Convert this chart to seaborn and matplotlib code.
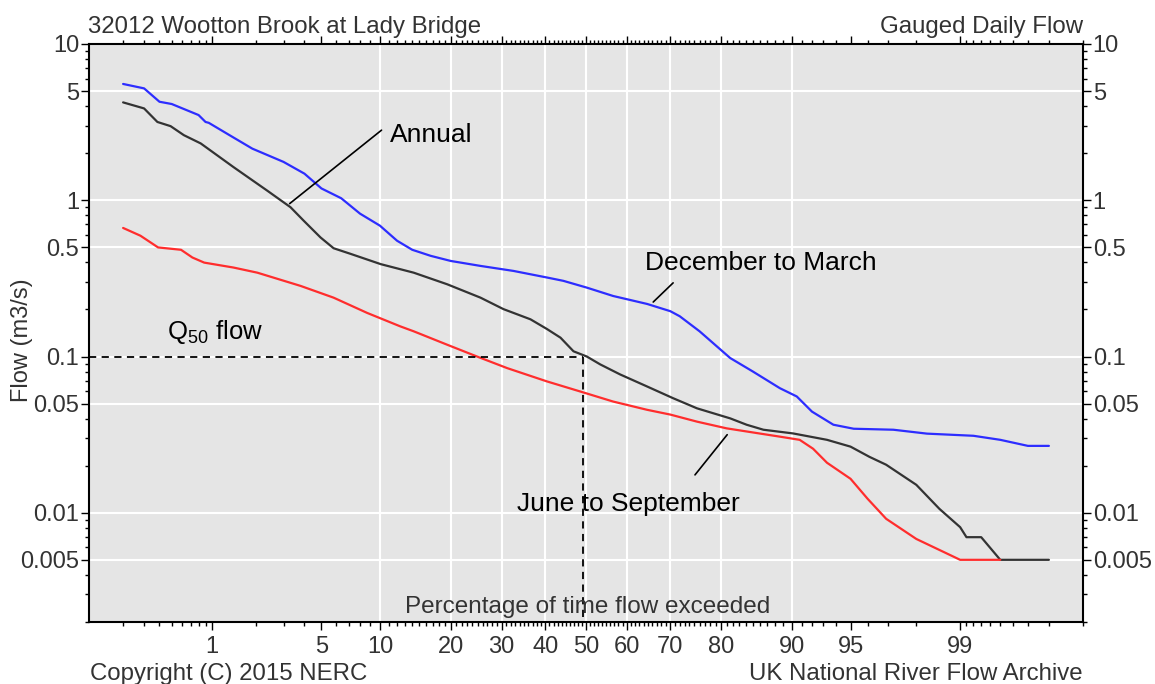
import math
import numpy as np
import pandas as pd
import matplotlib
matplotlib.use("Agg")
import matplotlib.pyplot as plt
from matplotlib.ticker import FixedLocator, FixedFormatter, NullFormatter
import seaborn as sns

# ---------------- data ----------------
dm_pct = [0.2, 0.3, 0.4, 0.5, 0.8, 0.9, 0.95, 1.4, 1.9, 3, 4, 5, 6.4, 8, 10, 12, 14, 16.7,
          20, 25.6, 32.6, 40.5, 44.4, 50.2, 56.7, 64.8, 70, 72, 76, 81.5, 85, 88.6, 90.5,
          92, 93.8, 95.2, 97.2, 98.3, 99.2, 99.5, 99.7, 99.8]
dm_flow = [5.55, 5.2, 4.27, 4.13, 3.51, 3.17, 3.13, 2.54, 2.14, 1.76, 1.48, 1.19, 1.03, 0.821,
           0.688, 0.551, 0.482, 0.441, 0.409, 0.38, 0.353, 0.32, 0.305, 0.276, 0.244, 0.217,
           0.195, 0.181, 0.145, 0.0978, 0.0803, 0.0627, 0.0555, 0.0444, 0.0366, 0.0345, 0.034,
           0.0321, 0.0311, 0.0293, 0.0268, 0.0268]

an_pct = [0.2, 0.3, 0.385, 0.49, 0.62, 0.83, 1.42, 2.38, 3.31, 3.96, 4.94, 5.83, 7.16, 10.1,
          14.2, 19.4, 25.6, 30.4, 36.5, 40.4, 43.7, 46.9, 50.2, 53.5, 58.4, 64.8, 70.6, 75.5,
          81.5, 84.1, 86.5, 90.1, 93.3, 95, 96.1, 96.9, 98, 98.6, 99, 99.1, 99.3, 99.5, 99.8]
an_flow = [4.23, 3.87, 3.17, 2.98, 2.61, 2.31, 1.63, 1.15, 0.902, 0.74, 0.578, 0.493, 0.454,
           0.39, 0.344, 0.29, 0.238, 0.201, 0.173, 0.15, 0.132, 0.108, 0.1, 0.0891, 0.0768,
           0.0643, 0.0541, 0.0466, 0.0402, 0.0366, 0.034, 0.0322, 0.0293, 0.0265, 0.0228,
           0.0203, 0.0151, 0.0106, 0.00809, 0.00698, 0.00698, 0.005, 0.005]

js_pct = [0.2, 0.28, 0.39, 0.59, 0.72, 0.88, 1.42, 2.05, 3.8, 5.83, 8.69, 12.4, 14.2, 19.4,
          24.9, 31.2, 40.4, 48.6, 56.7, 64.8, 70, 75.5, 80.9, 86.1, 88.6, 90.8, 92.1, 93.3,
          95, 96, 96.9, 98, 99, 99.5]
js_flow = [0.665, 0.593, 0.499, 0.482, 0.43, 0.399, 0.371, 0.344, 0.283, 0.238, 0.19, 0.156,
           0.145, 0.119, 0.1, 0.0843, 0.0693, 0.0597, 0.0515, 0.0456, 0.0425, 0.0383, 0.0347,
           0.0321, 0.0307, 0.0293, 0.0257, 0.0209, 0.0165, 0.0123, 0.00915, 0.0068, 0.005, 0.005]

q50_pct = 49.2
q50_flow = 0.1

x_tick_vals = [1, 5, 10, 20, 30, 40, 50, 60, 70, 80, 90, 95, 99]
x_tick_labels = ["1", "5", "10", "20", "30", "40", "50", "60", "70", "80", "90", "95", "99"]
x_grid_vals = [10, 20, 30, 40, 50, 60, 70, 80, 90]
y_tick_vals = [10, 5, 1, 0.5, 0.1, 0.05, 0.01, 0.005]
y_tick_labels = ["10", "5", "1", "0.5", "0.1", "0.05", "0.01", "0.005"]

# ---------------- normal-probability scale ----------------
_a = [-3.969683028665376e+01, 2.209460984245205e+02, -2.759285104469687e+02,
      1.383577518672690e+02, -3.066479806614716e+01, 2.506628277459239e+00]
_b = [-5.447609879822406e+01, 1.615858368580409e+02, -1.556989798598866e+02,
      6.680131188771972e+01, -1.328068155288572e+01]
_c = [-7.784894002430293e-03, -3.223964580411365e-01, -2.400758277161838e+00,
      -2.549732539343734e+00, 4.374664141464968e+00, 2.938163982698783e+00]
_d = [7.784695709041462e-03, 3.224671290700398e-01, 2.445134137142996e+00,
      3.754408661907416e+00]


def _ppf(p):
    p = np.clip(np.asarray(p, dtype=float), 1e-12, 1 - 1e-12)
    out = np.empty_like(p)
    plow = 0.02425
    lo = p < plow
    hi = p > 1 - plow
    mid = ~(lo | hi)
    q = np.sqrt(-2 * np.log(p[lo]))
    out[lo] = (((((_c[0]*q+_c[1])*q+_c[2])*q+_c[3])*q+_c[4])*q+_c[5]) / \
              ((((_d[0]*q+_d[1])*q+_d[2])*q+_d[3])*q+1)
    q = np.sqrt(-2 * np.log(1 - p[hi]))
    out[hi] = -(((((_c[0]*q+_c[1])*q+_c[2])*q+_c[3])*q+_c[4])*q+_c[5]) / \
               ((((_d[0]*q+_d[1])*q+_d[2])*q+_d[3])*q+1)
    q = p[mid] - 0.5
    r = q * q
    out[mid] = (((((_a[0]*r+_a[1])*r+_a[2])*r+_a[3])*r+_a[4])*r+_a[5])*q / \
               (((((_b[0]*r+_b[1])*r+_b[2])*r+_b[3])*r+_b[4])*r+1)
    return out


_erf = np.frompyfunc(math.erf, 1, 1)


def pct_forward(x):
    return _ppf(np.asarray(x, dtype=float) / 100.0)


def pct_inverse(z):
    z = np.asarray(z, dtype=float)
    return 50.0 * (1.0 + _erf(z / math.sqrt(2)).astype(float))


# ---------------- styling ----------------
sns.set_style("ticks")
plt.rcParams["font.family"] = ["Liberation Sans", "DejaVu Sans"]
plt.rcParams["mathtext.fontset"] = "custom"
plt.rcParams["mathtext.rm"] = "Liberation Sans"
plt.rcParams["mathtext.it"] = "Liberation Sans"

TXT = "#333333"
FS = 17.3
fig = plt.figure(figsize=(11.55, 6.84), dpi=100)
ax = fig.add_axes([89 / 1155, 1 - 622 / 684, (1083 - 89) / 1155, (622 - 44) / 684])
ax.set_facecolor("#e5e5e5")

df = pd.concat([
    pd.DataFrame({"pct": dm_pct, "flow": dm_flow, "season": "December to March"}),
    pd.DataFrame({"pct": an_pct, "flow": an_flow, "season": "Annual"}),
    pd.DataFrame({"pct": js_pct, "flow": js_flow, "season": "June to September"}),
])
palette = {"December to March": "#2d2dff", "Annual": "#333333", "June to September": "#ff2d2d"}
sns.lineplot(data=df, x="pct", y="flow", hue="season", palette=palette, estimator=None,
             sort=False, lw=1.6, ax=ax, legend=False, zorder=3)

ax.set_xscale("function", functions=(pct_forward, pct_inverse))
ax.set_yscale("log")
ax.set_xlim(0.1, 99.9)
ax.set_ylim(0.002, 10)

# grid
for g in x_grid_vals:
    ax.axvline(g, color="white", lw=1.5, zorder=1)
for g in y_tick_vals:
    ax.axhline(g, color="white", lw=1.5, zorder=1)

# ticks
ax.xaxis.set_major_locator(FixedLocator(x_tick_vals))
ax.xaxis.set_major_formatter(FixedFormatter(x_tick_labels))
x_minor = list(np.round(np.arange(0.2, 1.0, 0.1), 1)) + list(range(1, 99)) + \
    list(np.round(np.arange(99.1, 99.95, 0.1), 1))
ax.xaxis.set_minor_locator(FixedLocator(x_minor))
ax.xaxis.set_minor_formatter(NullFormatter())
ax.yaxis.set_major_locator(FixedLocator(y_tick_vals))
ax.yaxis.set_major_formatter(FixedFormatter(y_tick_labels))
y_minor = []
for dec in [0.001, 0.01, 0.1, 1]:
    for m in [2, 3, 4, 6, 7, 8, 9]:
        v = m * dec
        if 0.002 <= v <= 10:
            y_minor.append(v)
ax.yaxis.set_minor_locator(FixedLocator(y_minor))
ax.yaxis.set_minor_formatter(NullFormatter())

ax.tick_params(which="both", direction="out", top=True, right=True, labelright=True,
               color="black", width=1.0, labelcolor=TXT, labelsize=17)
ax.tick_params(which="major", length=6)
ax.tick_params(which="minor", length=3)
ax.tick_params(axis="y", which="major", pad=1.0)
ax.tick_params(axis="x", which="major", pad=4)
for s in ax.spines.values():
    s.set_linewidth(1.5)
    s.set_color("black")
    s.set_zorder(5)

ax.set_xlabel("")
ax.set_ylabel("Flow (m3/s)", fontsize=17, color=TXT)
ax.yaxis.set_label_coords(-0.0674, 0.488)
ax.yaxis.label.set_verticalalignment("center")

# Q50 dashed guide
ax.plot([0.1, q50_pct], [q50_flow, q50_flow], color="black", lw=1.3, ls=(0, (4, 3)), zorder=4)
ax.plot([q50_pct, q50_pct], [q50_flow, 0.002], color="black", lw=1.3, ls=(0, (4, 3)), zorder=4)

# annotations
ax.plot([3.27, 10.18], [0.952, 2.81], color="black", lw=1.2, zorder=4)
ax.plot([66.2, 70.6], [0.2232, 0.296], color="black", lw=1.2, zorder=4)
ax.plot([81.0, 75.1], [0.0316, 0.01748], color="black", lw=1.2, zorder=4)
ax.text(11.1, 2.36, "Annual", fontsize=19, color="black", va="baseline", ha="left")
ax.text(64.4, 0.357, "December to March", fontsize=19, color="black", va="baseline", ha="left")
ax.text(33.3, 0.0102, "June to September", fontsize=19, color="black", va="baseline", ha="left")
ax.text(0.463, 0.129, r"Q$_{\mathrm{50}}$ flow", fontsize=18.5, color="black", va="baseline", ha="left")
ax.text(0.5015, 0.0156, "Percentage of time flow exceeded", transform=ax.transAxes,
        fontsize=17.5, color=TXT, va="baseline", ha="center", zorder=6)

# header / footer
fig.text(88 / 1155, 1 - 33 / 684, "32012 Wootton Brook at Lady Bridge", fontsize=FS,
         color=TXT, ha="left", va="baseline")
fig.text(1083 / 1155, 1 - 33 / 684, "Gauged Daily Flow", fontsize=FS,
         color=TXT, ha="right", va="baseline")
fig.text(90 / 1155, 1 - 680 / 684, "Copyright (C) 2015 NERC", fontsize=FS,
         color=TXT, ha="left", va="baseline")
fig.text(1083 / 1155, 1 - 680 / 684, "UK National River Flow Archive", fontsize=FS,
         color=TXT, ha="right", va="baseline")

fig.savefig("out.png", dpi=100)
